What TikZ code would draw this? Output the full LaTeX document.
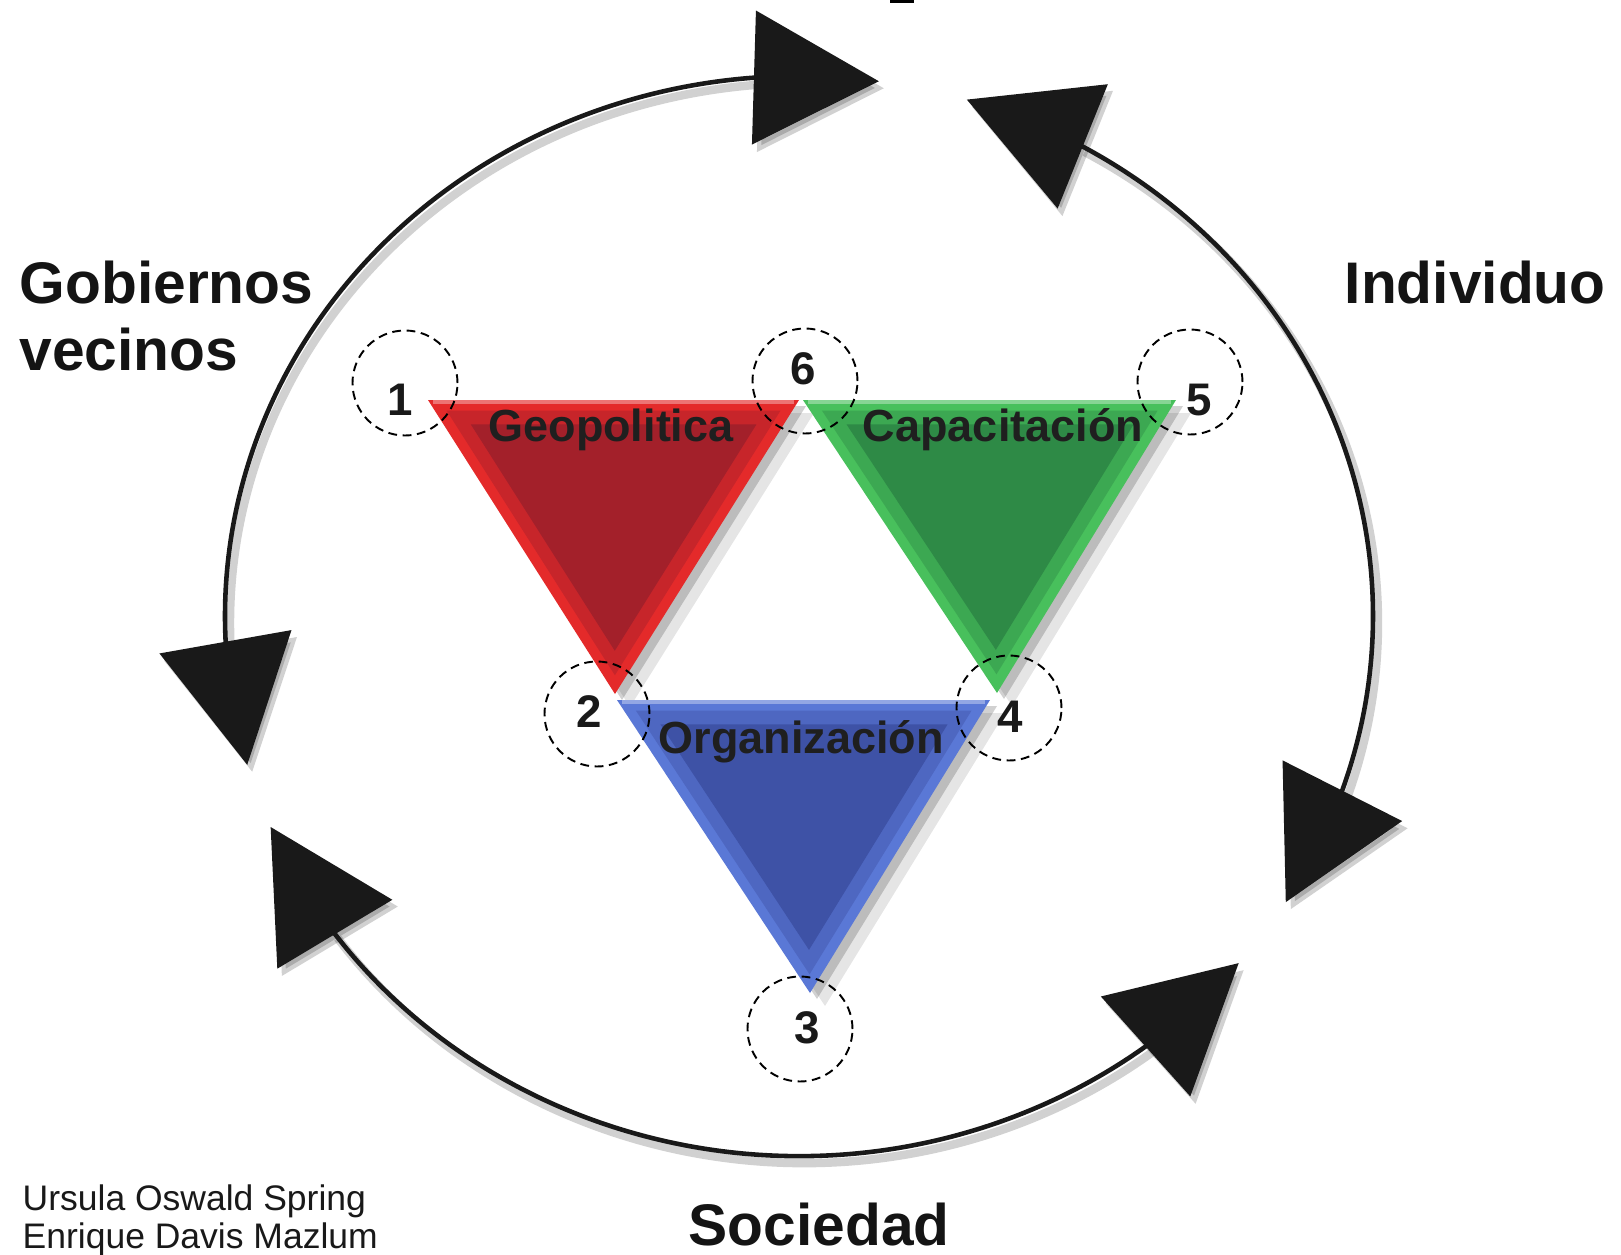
\documentclass[tikz,border=0pt]{standalone}
\usepackage{fontspec}
\setmainfont{Liberation Sans}
\usetikzlibrary{arrows.meta,bending,calc}

\definecolor{geoLite}{HTML}{E42A2A}
\definecolor{geoDark}{HTML}{A3202A}
\definecolor{capLite}{HTML}{48C05C}
\definecolor{capDark}{HTML}{2E8A46}
\definecolor{orgLite}{HTML}{5A78D6}
\definecolor{orgDark}{HTML}{3E52A6}

\begin{document}
\begin{tikzpicture}[
    >={Triangle[length=12.5mm,width=13.3mm]},
    ring/.style={<->, line width=1.3pt, black!90},
    ringshadow/.style={<->, line width=2.4pt, black, opacity=0.18},
    corner/.style={circle, draw, dash pattern=on 2.5pt off 1.6pt, line width=0.55pt, minimum size=1.05cm, inner sep=0pt},
    num/.style={font=\fontsize{13}{13}\selectfont\bfseries, text=black!90, inner sep=0pt},
    facet/.style={font=\fontsize{12.8}{13}\selectfont\bfseries, text=black!88, inner sep=0pt, anchor=base},
    actor/.style={font=\fontsize{16.7}{19}\selectfont\bfseries, text=black!92, inner sep=0pt, anchor=base west},
    credit/.style={font=\fontsize{10.1}{11}\selectfont, text=black!90, inner sep=0pt, anchor=base west}]

    \useasboundingbox (0,0) rectangle (16.21,-12.55);
    \fill[black] (8.90,0) rectangle (9.14,-0.03);

    % the cycle around the triangles
    \coordinate (hub) at (7.99,-6.16);
    \foreach \a/\b in {82/196, 73/-32, 203/320} {
        \draw[ringshadow] ($(hub)+(\a:5.74 and 5.40)+(0.05,-0.07)$) arc[start angle=\a, end angle=\b, x radius=5.74, y radius=5.40];
        \draw[ring] ($(hub)+(\a:5.74 and 5.40)$) arc[start angle=\a, end angle=\b, x radius=5.74, y radius=5.40];
    }

    % three bevelled triangles
    \coordinate (org-a) at (6.17,-7.00);
    \coordinate (org-b) at (9.90,-7.00);
    \coordinate (org-c) at (8.10,-9.93);
    \coordinate (geo-a) at (4.28,-4.00);
    \coordinate (geo-b) at (7.99,-4.00);
    \coordinate (geo-c) at (6.15,-6.94);
    \coordinate (cap-a) at (8.03,-4.00);
    \coordinate (cap-b) at (11.76,-4.00);
    \coordinate (cap-c) at (9.97,-6.93);

    \foreach \t in {org,geo,cap} {
        \fill[black, opacity=0.10] ($(\t-a)+(0.15,-0.13)$) -- ($(\t-b)+(0.15,-0.13)$) -- ($(\t-c)+(0.15,-0.13)$) -- cycle;
        \fill[black, opacity=0.18] ($(\t-a)+(0.07,-0.06)$) -- ($(\t-b)+(0.07,-0.06)$) -- ($(\t-c)+(0.07,-0.06)$) -- cycle;
    }
    \foreach \t/\lite/\dark in {org/orgLite/orgDark, geo/geoLite/geoDark, cap/capLite/capDark} {
        \coordinate (\t-m) at ($1/3*(\t-a)+1/3*(\t-b)+1/3*(\t-c)+(0,-0.08)$);
        \fill[\lite] (\t-a) -- (\t-b) -- (\t-c) -- cycle;
        \fill[\lite!55!\dark] ($(\t-m)!0.9!(\t-a)$) -- ($(\t-m)!0.9!(\t-b)$) -- ($(\t-m)!0.9!(\t-c)$) -- cycle;
        \fill[\dark] ($(\t-m)!0.77!(\t-a)$) -- ($(\t-m)!0.77!(\t-b)$) -- ($(\t-m)!0.77!(\t-c)$) -- cycle;
        \draw[white, opacity=0.35, line width=1.2pt] ($(\t-a)+(0.05,-0.02)$) -- ($(\t-b)+(-0.05,-0.02)$);
    }

    % triangle names
    \node[facet] (geoTxt) at (6.11,-4.41) {Geopolitica};
    \node[facet] (capTxt) at (10.03,-4.41) {Capacitación};
    \node[facet] (orgTxt) at (8.01,-7.53) {Organización};

    % numbered corners
    \node[corner] (k1) at (4.05,-3.83) {};
    \node[corner] (k6) at (8.05,-3.81) {};
    \node[corner] (k5) at (11.90,-3.82) {};
    \node[corner] (k2) at (5.97,-7.14) {};
    \node[corner] (k4) at (10.09,-7.08) {};
    \node[corner] (k3) at (8.00,-10.29) {};
    \node[num] (n1) at (4.00,-4.00) {1};
    \node[num] (n6) at (8.03,-3.69) {6};
    \node[num] (n5) at (11.99,-4.00) {5};
    \node[num] (n2) at (5.89,-7.12) {2};
    \node[num] (n4) at (10.10,-7.17) {4};
    \node[num] (n3) at (8.07,-10.28) {3};

    % actors around the cycle
    \node[actor] (gob) at (0.19,-3.03) {Gobiernos};
    \node[actor] (vec) at (0.19,-3.70) {vecinos};
    \node[actor] (ind) at (13.44,-3.03) {Individuo};
    \node[actor] (soc) at (6.88,-12.45) {Sociedad};

    \node[credit] (au1) at (0.22,-12.10) {Ursula Oswald Spring};
    \node[credit] (au2) at (0.22,-12.48) {Enrique Davis Mazlum};
\end{tikzpicture}
\end{document}
